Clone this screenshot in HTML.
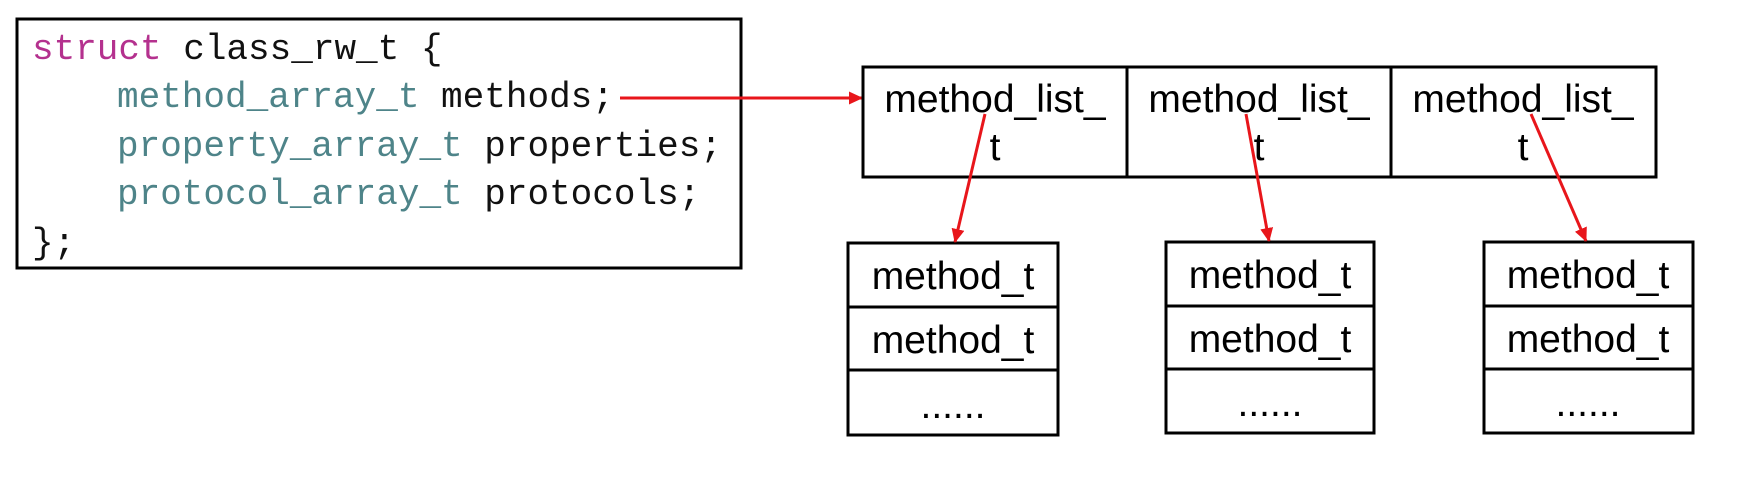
<!DOCTYPE html>
<html><head><meta charset="utf-8"><style>
html,body{margin:0;padding:0;background:#fff;}
svg{display:block;}
.c{font-family:"Liberation Mono",monospace;font-size:36px;}
.s{font-family:"Liberation Sans",Arial,sans-serif;font-size:39px;fill:#000;text-anchor:middle;}
</style></head><body>
<svg width="1754" height="494" viewBox="0 0 1754 494" xmlns="http://www.w3.org/2000/svg">
<defs>
<marker id="b" markerWidth="14" markerHeight="13" refX="13" refY="6.5" orient="auto" markerUnits="userSpaceOnUse"><path d="M0,0 L14,6.5 L0,13 z" fill="#e8161b"/></marker></defs>
<rect x="17" y="19" width="724" height="249" fill="#fff" stroke="#000" stroke-width="3"/>
<g class="c">
<text x="32" y="59"><tspan fill="#b4318e">struct</tspan><tspan fill="#111"> class_rw_t {</tspan></text>
<text x="117" y="107"><tspan fill="#4e8489">method_array_t</tspan><tspan fill="#111"> methods;</tspan></text>
<text x="117" y="156"><tspan fill="#4e8489">property_array_t</tspan><tspan fill="#111"> properties;</tspan></text>
<text x="117" y="204"><tspan fill="#4e8489">protocol_array_t</tspan><tspan fill="#111"> protocols;</tspan></text>
<text x="32" y="253" fill="#111">};</text>
</g>
<line x1="620" y1="98" x2="862" y2="98" stroke="#e8161b" stroke-width="3" marker-end="url(#b)"/>
<g fill="none" stroke="#000" stroke-width="3">
<rect x="863" y="67" width="793" height="110"/>
<line x1="1127" y1="67" x2="1127" y2="177"/><line x1="1391" y1="67" x2="1391" y2="177"/>
<rect x="848" y="243" width="210" height="192"/><line x1="848" y1="307" x2="1058" y2="307"/><line x1="848" y1="370" x2="1058" y2="370"/>
<rect x="1166" y="242" width="208" height="191"/><line x1="1166" y1="306" x2="1374" y2="306"/><line x1="1166" y1="369" x2="1374" y2="369"/>
<rect x="1484" y="242" width="209" height="191"/><line x1="1484" y1="306" x2="1693" y2="306"/><line x1="1484" y1="369" x2="1693" y2="369"/>
</g>
<g class="s">
<text x="995" y="112">method_list_</text><text x="995" y="160">t</text>
<text x="1259" y="112">method_list_</text><text x="1259" y="160">t</text>
<text x="1523" y="112">method_list_</text><text x="1523" y="160">t</text>
<text x="953" y="289">method_t</text><text x="953" y="353">method_t</text><text x="953" y="418">......</text>
<text x="1270" y="288">method_t</text><text x="1270" y="352">method_t</text><text x="1270" y="416">......</text>
<text x="1588" y="288">method_t</text><text x="1588" y="352">method_t</text><text x="1588" y="416">......</text>
</g>
<g stroke="#e8161b" stroke-width="3" marker-end="url(#b)">
<line x1="985" y1="114" x2="955" y2="242"/>
<line x1="1246" y1="114" x2="1269" y2="241"/>
<line x1="1531" y1="114" x2="1586" y2="241"/>
</g>
</svg>
</body></html>
